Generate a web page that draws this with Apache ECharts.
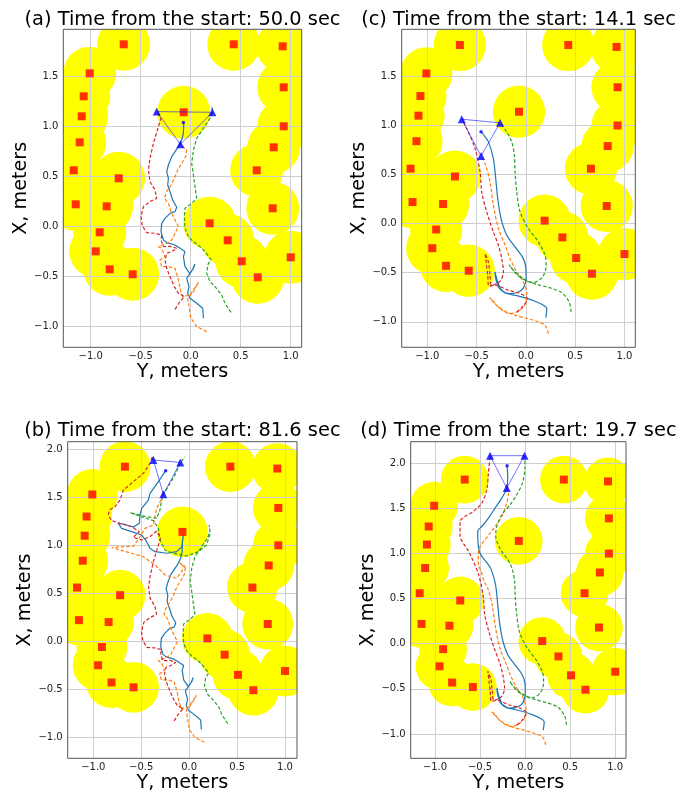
<!DOCTYPE html>
<html>
<head>
<meta charset="utf-8">
<script src="https://cdn.jsdelivr.net/npm/echarts@6.0.0/dist/echarts.min.js"></script>
<style>
  html, body { margin: 0; padding: 0; background: #fff; }
  #main { width: 689px; height: 791px; }
</style>
</head>
<body>
<div id="main"></div>
<script>
// tick values
const xTicks = [-1, -0.5, 0, 0.5, 1];
const yTicksTop = [-1, -0.5, 0, 0.5, 1, 1.5];
const yTicksBottom = [-1, -0.5, 0, 0.5, 1, 1.5, 2];

// obstacles [Y, X] in meters, radius in meters
const obstacleRadius = 0.265;
const obstacles = [
  [-0.67, 1.82], [0.43, 1.82], [0.92, 1.80], [-1.01, 1.53], [0.93, 1.39],
  [-1.07, 1.30], [-1.09, 1.10], [-0.07, 1.14], [0.93, 1.00], [-1.11, 0.84],
  [0.83, 0.79], [-1.17, 0.56], [-0.72, 0.48], [0.66, 0.56], [-1.15, 0.22],
  [-0.84, 0.20], [0.82, 0.18], [0.19, 0.03], [-0.91, -0.06], [0.37, -0.14],
  [-0.95, -0.25], [1.00, -0.31], [0.51, -0.35], [-0.81, -0.43], [-0.58, -0.48],
  [0.67, -0.51]
];

// run 1, 50.0 sec
const leaderA = [[0.127,-0.92],[0.12,-0.82],[0.06,-0.77],[-0.007,-0.72],[-0.03,-0.67],[-0.017,-0.603],[-0.04,-0.52],[-0.007,-0.47],[0.027,-0.42],[0.043,-0.377],[0.02,-0.43],[-0.01,-0.47],[-0.057,-0.403],[-0.073,-0.303],[-0.057,-0.253],[-0.107,-0.22],[-0.157,-0.187],[-0.24,-0.163],[-0.273,-0.137],[-0.297,-0.053],[-0.29,0.03],[-0.257,0.08],[-0.207,0.13],[-0.157,0.147],[-0.14,0.19],[-0.18,0.263],[-0.207,0.347],[-0.23,0.413],[-0.223,0.48],[-0.24,0.547],[-0.223,0.613],[-0.19,0.697],[-0.157,0.747],[-0.123,0.797],[-0.09,0.863],[-0.073,0.93],[-0.07,1.013],[-0.073,1.037]];
const orangeA = [[0.16,-1.053],[0.06,-1.003],[0.003,-0.92],[-0.017,-0.803],[-0.03,-0.72],[0.027,-0.653],[0.077,-0.563],[-0.007,-0.687],[-0.083,-0.703],[-0.107,-0.62],[-0.123,-0.537],[-0.157,-0.42],[-0.223,-0.403],[-0.29,-0.403],[-0.307,-0.337],[-0.257,-0.303],[-0.29,-0.22],[-0.323,-0.203],[-0.24,-0.17],[-0.19,-0.137],[-0.157,-0.07],[-0.123,-0.003],[-0.157,0.063],[-0.19,0.13],[-0.223,0.23],[-0.263,0.28],[-0.24,0.347],[-0.197,0.413],[-0.163,0.48],[-0.13,0.563],[-0.09,0.63],[-0.05,0.697],[-0.04,0.763],[-0.103,0.82]];
const greenA = [[0.403,-0.86],[0.343,-0.77],[0.31,-0.687],[0.283,-0.653],[0.243,-0.603],[0.193,-0.553],[0.16,-0.47],[0.17,-0.387],[0.203,-0.33],[0.143,-0.253],[0.093,-0.203],[0.027,-0.153],[-0.023,-0.103],[-0.057,-0.02],[-0.063,0.097],[-0.057,0.18],[0.01,0.23],[0.06,0.28],[0.043,0.397],[0.027,0.513],[0.01,0.63],[0.027,0.763],[0.06,0.88],[0.127,0.98],[0.193,1.08],[0.217,1.14],[0.21,1.213]];
const redA = [[-0.157,-0.83],[-0.107,-0.753],[-0.063,-0.703],[-0.123,-0.67],[-0.163,-0.603],[-0.207,-0.503],[-0.24,-0.42],[-0.257,-0.337],[-0.24,-0.27],[-0.19,-0.253],[-0.14,-0.22],[-0.2,-0.2],[-0.273,-0.203],[-0.297,-0.137],[-0.29,-0.087],[-0.357,-0.07],[-0.44,-0.063],[-0.483,0.003],[-0.497,0.097],[-0.473,0.197],[-0.407,0.247],[-0.34,0.28],[-0.357,0.363],[-0.407,0.447],[-0.423,0.563],[-0.407,0.68],[-0.373,0.83],[-0.323,0.997],[-0.297,1.08],[-0.34,1.147]];
const triA = [[-0.34,1.147],[0.217,1.14],[-0.103,0.82]];
const dotA = [-0.073,1.037];

// run 1, 81.6 sec (continues the 50.0 sec paths)
const leaderB = leaderA.concat([[-0.06,1.107],[-0.077,0.985],[-0.13,0.934],[-0.234,0.917],[-0.356,0.934],[-0.408,0.968],[-0.443,1.038],[-0.495,1.107],[-0.6,1.142],[-0.704,1.177],[-0.739,1.229],[-0.68,1.22],[-0.58,1.19],[-0.52,1.229],[-0.513,1.315],[-0.495,1.385],[-0.426,1.472],[-0.408,1.541],[-0.321,1.663],[-0.245,1.778]]);
const orangeB = orangeA.concat([[-0.043,0.778],[-0.13,0.656],[-0.251,0.691],[-0.356,0.795],[-0.478,0.882],[-0.6,0.917],[-0.721,0.951],[-0.808,0.979],[-0.7,0.985],[-0.583,0.99],[-0.53,1.06],[-0.46,1.177],[-0.373,1.212],[-0.356,1.298],[-0.339,1.385],[-0.304,1.455],[-0.269,1.531]]);
const greenB = greenA.concat([[0.218,1.124],[0.183,1.003],[0.096,0.934],[-0.025,0.889],[-0.165,0.917],[-0.252,0.951],[-0.304,1.055],[-0.321,1.177],[-0.373,1.257],[-0.495,1.298],[-0.617,1.34],[-0.45,1.3],[-0.339,1.281],[-0.304,1.368],[-0.287,1.472],[-0.269,1.531],[-0.199,1.645],[-0.13,1.767],[-0.092,1.864],[-0.043,1.923]]);
const redB = redA.concat([[-0.408,1.09],[-0.495,1.055],[-0.583,1.083],[-0.52,1.142],[-0.6,1.194],[-0.721,1.229],[-0.808,1.257],[-0.843,1.316],[-0.833,1.368],[-0.774,1.402],[-0.721,1.472],[-0.686,1.576],[-0.583,1.663],[-0.478,1.75],[-0.408,1.854],[-0.383,1.93],[-0.373,1.889]]);
const triB = [[-0.373,1.889],[-0.092,1.864],[-0.269,1.531]];
const dotB = [-0.245,1.778];

// run 2, 14.1 sec
const leaderC = [[0.202,-0.957],[0.212,-0.866],[0.178,-0.832],[0.093,-0.791],[-0.008,-0.757],[-0.11,-0.73],[-0.211,-0.706],[-0.272,-0.655],[-0.306,-0.56],[-0.313,-0.492],[-0.286,-0.594],[-0.245,-0.679],[-0.16,-0.713],[-0.076,-0.696],[-0.025,-0.655],[0.002,-0.56],[-0.001,-0.441],[-0.035,-0.339],[-0.11,-0.237],[-0.194,-0.118],[-0.252,0.052],[-0.286,0.256],[-0.306,0.459],[-0.33,0.663],[-0.38,0.833],[-0.431,0.908],[-0.455,0.935]];
const orangeC = [[0.229,-1.121],[0.195,-1.036],[0.11,-0.995],[-0.008,-0.961],[-0.127,-0.927],[-0.211,-0.893],[-0.279,-0.849],[-0.33,-0.798],[-0.37,-0.757],[-0.347,-0.771],[-0.262,-0.866],[-0.16,-0.917],[-0.076,-0.893],[-0.008,-0.825],[0.009,-0.713],[-0.025,-0.594],[-0.093,-0.492],[-0.16,-0.356],[-0.211,-0.22],[-0.279,-0.05],[-0.33,0.188],[-0.364,0.425],[-0.414,0.612],[-0.455,0.69]];
const greenC = [[0.459,-0.9],[0.438,-0.798],[0.364,-0.703],[0.246,-0.655],[0.11,-0.618],[-0.008,-0.577],[-0.103,-0.509],[-0.17,-0.418],[-0.127,-0.475],[-0.025,-0.56],[0.077,-0.6],[0.169,-0.543],[0.205,-0.431],[0.195,-0.322],[0.127,-0.186],[0.025,-0.05],[-0.059,0.12],[-0.093,0.324],[-0.11,0.527],[-0.117,0.697],[-0.144,0.833],[-0.194,0.935],[-0.262,1.027]];
const redC = [[-0.093,-0.9],[-0.035,-0.849],[0.016,-0.764],[-0.059,-0.713],[-0.178,-0.679],[-0.313,-0.628],[-0.374,-0.638],[-0.387,-0.526],[-0.414,-0.305],[-0.381,-0.39],[-0.364,-0.526],[-0.347,-0.628],[-0.262,-0.587],[-0.228,-0.492],[-0.245,-0.356],[-0.279,-0.22],[-0.33,-0.084],[-0.398,0.12],[-0.448,0.324],[-0.465,0.528],[-0.516,0.766],[-0.6,0.969],[-0.651,1.064]];
const triC = [[-0.651,1.064],[-0.262,1.027],[-0.455,0.69]];
const dotC = [-0.455,0.935];

// run 2, 19.7 sec (continues the 14.1 sec paths)
const leaderD = leaderC.concat([[-0.5,1.0],[-0.519,1.08],[-0.526,1.226],[-0.519,1.263],[-0.481,1.3],[-0.407,1.393],[-0.333,1.504],[-0.259,1.615],[-0.204,1.726],[-0.193,1.856],[-0.2,1.974]]);
const orangeD = orangeC.concat([[-0.481,0.781],[-0.519,0.893],[-0.519,1.004],[-0.5,1.08],[-0.444,1.152],[-0.389,1.226],[-0.333,1.3],[-0.259,1.411],[-0.204,1.559],[-0.185,1.67],[-0.204,1.726]]);
const greenD = greenC.concat([[-0.3,1.1],[-0.326,1.189],[-0.315,1.3],[-0.259,1.43],[-0.167,1.541],[-0.093,1.652],[-0.03,1.781],[0,1.967],[-0.007,2.085]]);
const redD = redC.concat([[-0.69,1.12],[-0.722,1.189],[-0.722,1.356],[-0.667,1.411],[-0.574,1.467],[-0.481,1.559],[-0.426,1.707],[-0.407,1.893],[-0.389,2.085]]);
const triD = [[-0.389,2.085],[-0.007,2.085],[-0.204,1.726]];
const dotD = [-0.2,1.974];

const FONT = 'DejaVu Sans';
const colors = { leader: '#1f77b4', orange: '#ff7f0e', green: '#2ca02c', red: '#d62728' };

// panel layout (pixels) and axis ranges (meters)
const panels = [
  { title: '(a) Time from the start: 50.0 sec', grid: { left: 63.3, top: 29.3, width: 238.4, height: 318 },
    xr: [-1.274, 1.11], yr: [-1.21, 1.97], yTicks: yTicksTop,
    paths: [leaderA, orangeA, greenA, redA], tri: triA, dot: dotA,
    titleY: 20, xNameY: 371.7, yNameX: 20.7 },
  { title: '(c) Time from the start: 14.1 sec', grid: { left: 401.7, top: 29.3, width: 233.6, height: 318 },
    xr: [-1.26, 1.11], yr: [-1.26, 1.98], yTicks: yTicksTop,
    paths: [leaderC, orangeC, greenC, redC], tri: triC, dot: dotC, smooth: 0.3,
    titleY: 20, xNameY: 371.7, yNameX: 359 },
  { title: '(b) Time from the start: 81.6 sec', grid: { left: 67.7, top: 441.7, width: 229.3, height: 316.6 },
    xr: [-1.267, 1.125], yr: [-1.22, 2.08], yTicks: yTicksBottom,
    paths: [leaderB, orangeB, greenB, redB], tri: triB, dot: dotB,
    titleY: 431, xNameY: 782.7, yNameX: 25 },
  { title: '(d) Time from the start: 19.7 sec', grid: { left: 410.7, top: 441.7, width: 215.3, height: 316.6 },
    xr: [-1.27, 1.12], yr: [-1.27, 2.24], yTicks: yTicksBottom,
    paths: [leaderD, orangeD, greenD, redD], tri: triD, dot: dotD, smooth: 0.3,
    titleY: 431, xNameY: 782.7, yNameX: 367.7 }
];

function fmt(v) {
  const s = Math.abs(v).toFixed(1);
  return v < -1e-9 ? '\u2212' + s : s;
}

const grids = [], xAxes = [], yAxes = [], series = [], graphics = [];
const pathColors = [colors.leader, colors.orange, colors.green, colors.red];

panels.forEach(function (p, i) {
  grids.push(Object.assign({ show: true, borderColor: '#555', borderWidth: 1, z: 10,
    backgroundColor: 'transparent' }, p.grid));

  const tickCommon = { show: true, length: 4, lineStyle: { color: '#444', width: 1 } };
  const labelCommon = { formatter: fmt, fontSize: 10, fontFamily: FONT, color: '#222' };

  xAxes.push({ gridIndex: i, type: 'value', min: p.xr[0], max: p.xr[1],
    axisLine: { show: false },
    axisTick: Object.assign({ customValues: xTicks }, tickCommon),
    axisLabel: Object.assign({ customValues: xTicks, margin: 4 }, labelCommon),
    splitLine: { show: false } });
  yAxes.push({ gridIndex: i, type: 'value', min: p.yr[0], max: p.yr[1],
    axisLine: { show: false },
    axisTick: Object.assign({ customValues: p.yTicks }, tickCommon),
    axisLabel: Object.assign({ customValues: p.yTicks, margin: 5 }, labelCommon),
    splitLine: { show: false } });

  // yellow safety circles around obstacles
  series.push({
    type: 'custom', xAxisIndex: i, yAxisIndex: i, z: 1, silent: true, clip: true,
    data: obstacles,
    renderItem: function (params, api) {
      const c = api.coord([api.value(0), api.value(1)]);
      const s = api.size([obstacleRadius, obstacleRadius]);
      const cs = params.coordSys;
      return {
        type: 'group',
        clipPath: { type: 'rect', shape: { x: cs.x, y: cs.y, width: cs.width, height: cs.height } },
        children: [{ type: 'circle', shape: { cx: c[0], cy: c[1], r: s[0] }, style: { fill: '#ffff00' } }]
      };
    }
  });

  // grid lines above the circles, below everything else
  series.push({
    type: 'line', xAxisIndex: i, yAxisIndex: i, z: 2, silent: true, data: [],
    markLine: {
      z: 2, silent: true, symbol: ['none', 'none'], label: { show: false }, animation: false,
      lineStyle: { color: '#cfcfcf', width: 1, type: 'solid' },
      emphasis: { disabled: true },
      data: xTicks.map(function (v) { return { xAxis: v }; })
        .concat(p.yTicks.map(function (v) { return { yAxis: v }; }))
    }
  });

  // robot trajectories
  p.paths.forEach(function (path, k) {
    series.push({
      type: 'line', xAxisIndex: i, yAxisIndex: i, z: 3, silent: true,
      data: path, showSymbol: false, symbol: 'none', smooth: p.smooth || false,
      lineStyle: { color: pathColors[k], width: 1.2, type: k === 0 ? 'solid' : [3.5, 2] }
    });
  });

  // red obstacle markers
  series.push({
    type: 'scatter', xAxisIndex: i, yAxisIndex: i, z: 4, silent: true,
    data: obstacles, symbol: 'rect', symbolSize: 8, itemStyle: { color: '#ff0000' }
  });

  // formation triangle
  series.push({
    type: 'line', xAxisIndex: i, yAxisIndex: i, z: 5, silent: true,
    data: p.tri.concat([p.tri[0]]), showSymbol: false, symbol: 'none',
    lineStyle: { color: 'rgba(0,0,255,0.55)', width: 1 }
  });
  series.push({
    type: 'scatter', xAxisIndex: i, yAxisIndex: i, z: 6, silent: true,
    data: p.tri, symbol: 'triangle', symbolSize: 8, itemStyle: { color: '#0000ff' }
  });
  series.push({
    type: 'scatter', xAxisIndex: i, yAxisIndex: i, z: 6, silent: true,
    data: [p.dot], symbol: 'circle', symbolSize: 3.5, itemStyle: { color: '#0000ff' }
  });

  const cx = p.grid.left + p.grid.width / 2;
  const cy = p.grid.top + p.grid.height / 2;
  const txt = function (text, x, y, size, rot) {
    return { type: 'text', x: x, y: y, rotation: rot || 0, silent: true,
      style: { text: text, font: size + 'px "' + FONT + '"', fill: '#000',
        align: 'center', verticalAlign: 'middle', textAlign: 'center', textVerticalAlign: 'middle' } };
  };
  graphics.push(txt(p.title, cx, p.titleY, 19.4));
  graphics.push(txt('Y, meters', cx, p.xNameY, 19.2));
  graphics.push(txt('X, meters', p.yNameX, cy, 19.2, Math.PI / 2));
});

const chart = echarts.init(document.getElementById('main'), null, { renderer: 'canvas' });
chart.setOption({
  animation: false,
  backgroundColor: '#fff',
  grid: grids,
  xAxis: xAxes,
  yAxis: yAxes,
  series: series,
  graphic: { elements: graphics }
});
</script>
</body>
</html>
